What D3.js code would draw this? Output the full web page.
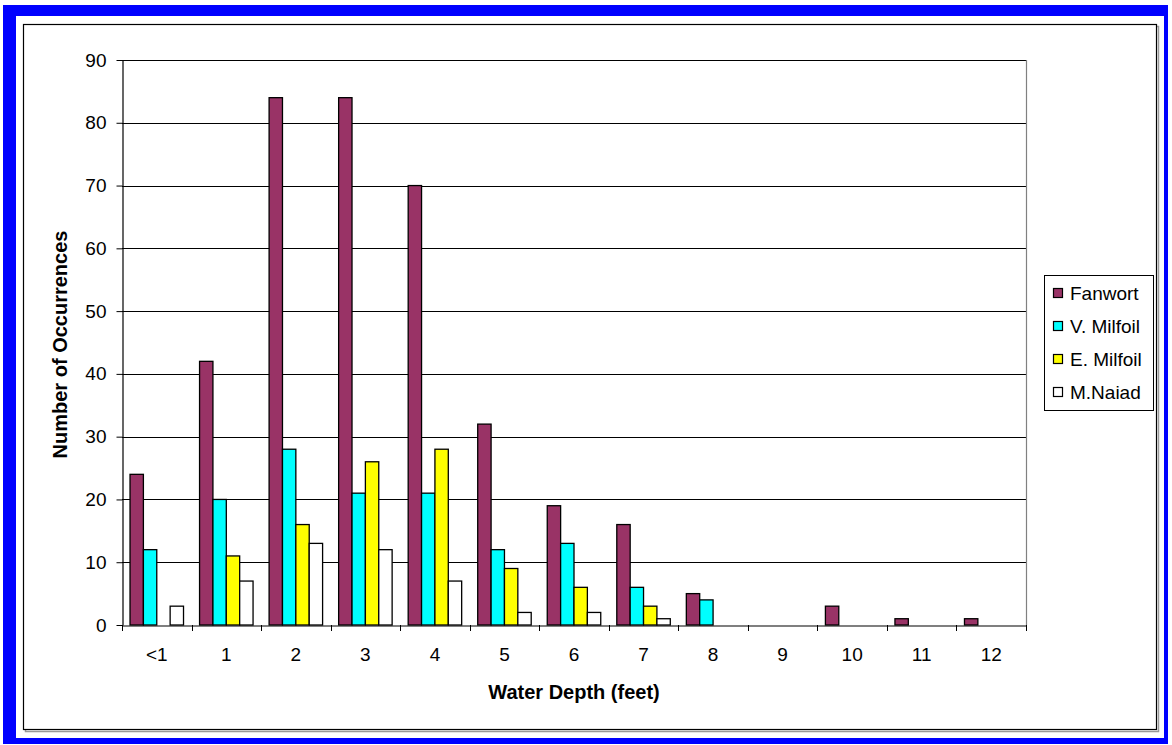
<!DOCTYPE html>
<html><head><meta charset="utf-8">
<script src="https://cdn.jsdelivr.net/npm/d3@7"></script>
<style>body{margin:0;background:#fff;}svg{display:block;font-family:"Liberation Sans",Arial,sans-serif;}</style>
</head><body>
<svg id="chart" width="1172" height="745"></svg>
<script>
const categories = ["<1","1","2","3","4","5","6","7","8","9","10","11","12"];
const seriesNames = ["Fanwort","V. Milfoil","E. Milfoil","M.Naiad"];
const fanwort   = [24,42,84,84,70,32,19,16,5,0,3,1,1];
const vMilfoil  = [12,20,28,21,21,12,13,6,4,0,0,0,0];
const eMilfoil  = [0,11,16,26,28,9,6,3,0,0,0,0,0];
const mNaiad    = [3,7,13,12,7,2,2,1,0,0,0,0,0];
const yTicks = [0,10,20,30,40,50,60,70,80,90];
const colors = ["#993366","#00FFFF","#FFFF00","#FFFFFF"];

const seriesData = [fanwort, vMilfoil, eMilfoil, mNaiad];
const svg = d3.select("#chart");

// outer blue frame
svg.append("rect").attr("x",3).attr("y",5).attr("width",1165).attr("height",739).attr("fill","#0000FF");
svg.append("rect").attr("x",16).attr("y",16).attr("width",1148).attr("height",722).attr("fill","#FFFFFF");
// inner border with shadow
svg.append("rect").attr("x",25.5).attr("y",26.5).attr("width",1133).attr("height",705).attr("fill","none").attr("stroke","#999").attr("stroke-width",1.5);
svg.append("rect").attr("x",23.5).attr("y",24.5).attr("width",1133).attr("height",705).attr("fill","#fff").attr("stroke","#000").attr("stroke-width",1.2);

const L=122, R=1026, T=60, B=625;
const x = d3.scaleBand().domain(categories).range([L,R]).paddingInner(0).paddingOuter(0);
const y = d3.scaleLinear().domain([0,90]).range([B,T]);
const gapRatio = 1.2;
const barW = x.bandwidth()/(4+gapRatio);
const x1 = d3.scaleBand().domain(seriesNames).range([barW*gapRatio/2, barW*gapRatio/2 + 4*barW]);

// gridlines
svg.append("g").selectAll("line").data(yTicks.filter(d=>d>0)).join("line")
  .attr("x1",L).attr("x2",R).attr("y1",d=>Math.round(y(d))+0.5).attr("y2",d=>Math.round(y(d))+0.5)
  .attr("stroke","#000").attr("stroke-width",1);
// plot area right border
svg.append("line").attr("x1",R+0.5).attr("x2",R+0.5).attr("y1",T).attr("y2",B).attr("stroke","#808080").attr("stroke-width",1.2);

// bars
seriesNames.forEach((s,i)=>{
  svg.append("g").selectAll("rect").data(seriesData[i].map((v,j)=>({c:categories[j],v})).filter(d=>d.v>0)).join("rect")
    .attr("x",d=>x(d.c)+x1(s)).attr("width",x1.bandwidth())
    .attr("y",d=>y(d.v)).attr("height",d=>y(0)-y(d.v))
    .attr("fill",colors[i]).attr("stroke","#000").attr("stroke-width",1.3);
});

// y axis
const yAxis = d3.axisLeft(y).tickValues(yTicks).tickSize(6).tickSizeOuter(0).tickPadding(10);
const gy = svg.append("g").attr("transform",`translate(${L+0.5},0)`).call(yAxis);
gy.select(".domain").attr("stroke","#000").attr("stroke-width",1.2);
gy.selectAll(".tick line").attr("stroke","#000");
gy.selectAll("text").attr("font-size",19).attr("fill","#000").attr("font-family","Liberation Sans, Arial, sans-serif");

// x axis
const xAxis = d3.axisBottom(x).tickSize(0).tickPadding(22);
const gx = svg.append("g").attr("transform",`translate(0,${B+0.5})`).call(xAxis);
gx.select(".domain").attr("stroke","#000").attr("stroke-width",1.2);
gx.selectAll("text").attr("font-size",19).attr("fill","#000").attr("font-family","Liberation Sans, Arial, sans-serif");
// boundary ticks
const bounds = categories.map(c=>x(c)).concat([R]);
svg.append("g").selectAll("line").data(bounds).join("line")
  .attr("x1",d=>Math.round(d)+0.5).attr("x2",d=>Math.round(d)+0.5).attr("y1",B).attr("y2",B+6)
  .attr("stroke","#000").attr("stroke-width",1);

// axis titles
svg.append("text").attr("x",(L+R)/2).attr("y",699).attr("text-anchor","middle")
  .attr("font-size",20).attr("font-weight","bold").text("Water Depth (feet)");
svg.append("text").attr("transform",`translate(67,${(T+B)/2+2}) rotate(-90)`).attr("text-anchor","middle")
  .attr("font-size",20).attr("font-weight","bold").text("Number of Occurrences");

// legend
const lg = svg.append("g");
lg.append("rect").attr("x",1044.5).attr("y",275.5).attr("width",109).attr("height",135).attr("fill","#fff").attr("stroke","#000").attr("stroke-width",1);
seriesNames.forEach((s,i)=>{
  const cy = 293 + i*33;
  lg.append("rect").attr("x",1053.5).attr("y",cy-4.5).attr("width",9).attr("height",9).attr("fill",colors[i]).attr("stroke","#000").attr("stroke-width",1.2);
  lg.append("text").attr("x",1070).attr("y",cy).attr("dy","0.35em").attr("font-size",19).text(s);
});
</script>
</body></html>
